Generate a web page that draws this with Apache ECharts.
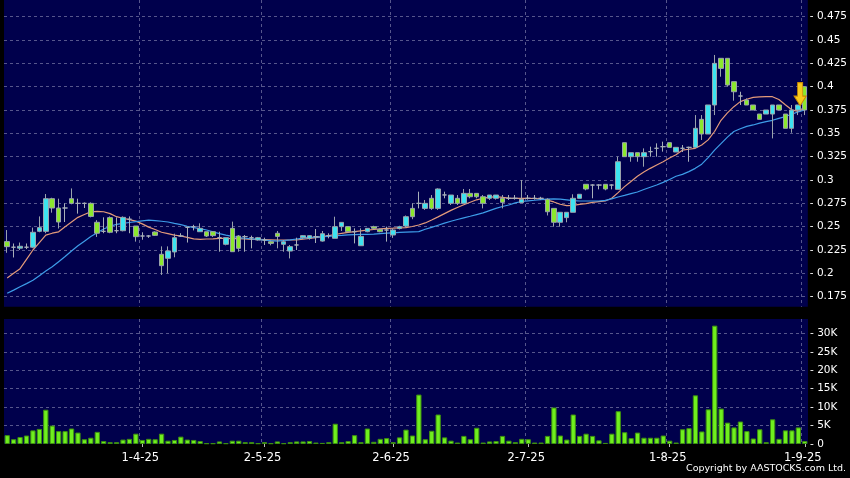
<!DOCTYPE html>
<html><head><meta charset="utf-8">
<script src="https://cdn.jsdelivr.net/npm/echarts@6/dist/echarts.min.js"></script>
<style>html,body{margin:0;padding:0;background:#000;}#c{width:850px;height:478px;}</style>
</head><body><div id="c"></div>
<script>
// Trading days (D-M-YY)
const categories = [
'3-3-25','4-3-25','5-3-25','6-3-25','7-3-25','10-3-25','11-3-25','12-3-25','13-3-25','14-3-25',
'17-3-25','18-3-25','19-3-25','20-3-25','21-3-25','24-3-25','25-3-25','26-3-25','27-3-25','28-3-25','31-3-25',
'1-4-25','2-4-25','3-4-25','7-4-25','8-4-25','9-4-25','10-4-25','11-4-25','14-4-25','15-4-25',
'16-4-25','17-4-25','22-4-25','23-4-25','24-4-25','25-4-25','28-4-25','29-4-25','30-4-25',
'2-5-25','6-5-25','7-5-25','8-5-25','9-5-25','12-5-25','13-5-25','14-5-25','15-5-25','16-5-25',
'19-5-25','20-5-25','21-5-25','22-5-25','23-5-25','26-5-25','27-5-25','28-5-25','29-5-25','30-5-25',
'2-6-25','3-6-25','4-6-25','5-6-25','6-6-25','9-6-25','10-6-25','11-6-25','12-6-25','13-6-25',
'16-6-25','17-6-25','18-6-25','19-6-25','20-6-25','23-6-25','24-6-25','25-6-25','26-6-25','27-6-25','30-6-25',
'2-7-25','3-7-25','4-7-25','7-7-25','8-7-25','9-7-25','10-7-25','11-7-25','14-7-25','15-7-25',
'16-7-25','17-7-25','18-7-25','21-7-25','22-7-25','23-7-25','24-7-25','25-7-25','28-7-25','29-7-25','30-7-25','31-7-25',
'1-8-25','4-8-25','5-8-25','6-8-25','7-8-25','8-8-25','11-8-25','12-8-25','13-8-25','14-8-25',
'15-8-25','18-8-25','19-8-25','20-8-25','21-8-25','22-8-25','25-8-25','26-8-25','27-8-25','28-8-25','29-8-25',
'1-9-25'];
const dateLabels = ['1-4-25','2-5-25','2-6-25','2-7-25','1-8-25','1-9-25'];

const opens = [
.234,.228,.227,.228,.228,.245,.245,.280,.270,.270,
.280,.275,.275,.275,.2547,.245,.2597,.2457,.2457,.258,
.2507,.240,.240,.2443,.2204,.2161,.2229,.240,.2493,.250,
.2446,.2446,.2446,.2382,.2311,.2482,.240,.2393,.2382,.2357,
.2357,.2339,.2429,.2311,.2239,.2304,.2382,.2375,.2393,.2346,
.2404,.2375,.250,.250,.2446,.2296,.2446,.250,.2471,.2464,
.2411,.248,.2507,.2696,.275,.2696,.2804,.2696,.284,.275,
.2804,.275,.2857,.2857,.2821,.2804,.2804,.2804,.2804,.2804,
.2757,.2804,.2804,.2804,.2793,.2696,.2547,.2597,.2654,.2804,
.2954,.2946,.2946,.2954,.2946,.290,.340,.325,.3293,.325,
.3304,.334,.3357,.340,.330,.334,.335,.335,.365,.3493,
.3804,.4304,.4304,.4054,.390,.3857,.3804,.3707,.3707,.3707,
.3804,.3707,.3554,.375,.400];
const closes = [
.2286,.228,.229,.228,.244,.249,.280,.270,.255,.270,
.275,.275,.275,.261,.243,.245,.244,.2457,.260,.258,
.2393,.240,.240,.2407,.2082,.224,.2382,.240,.2493,.250,
.2482,.240,.2404,.2382,.2382,.2232,.2268,.2393,.2382,.2382,
.2357,.2321,.2396,.2339,.2286,.2304,.2404,.2404,.2393,.2425,
.2404,.250,.2546,.2446,.2446,.2396,.2482,.2482,.2446,.2464,
.2464,.250,.2607,.2607,.275,.275,.2696,.2904,.284,.2839,
.275,.2857,.2821,.2821,.275,.2839,.2839,.2761,.2804,.2804,
.2793,.2804,.2804,.2804,.266,.2547,.2654,.2654,.2804,.2847,
.2904,.2946,.2946,.2904,.2946,.3196,.325,.3293,.325,.3293,
.3304,.334,.3357,.335,.335,.334,.335,.3554,.3493,.3804,
.425,.4196,.4018,.3946,.390,.3804,.375,.365,.375,.3804,
.375,.3554,.375,.3804,.375];
const lows = [
.222,.217,.225,.226,.227,.244,.243,.265,.248,.255,
.274,.264,.270,.260,.239,.243,.243,.243,.245,.243,
.234,.236,.238,.240,.1983,.200,.2172,.239,.233,.246,
.2446,.239,.239,.2232,.230,.2232,.2232,.2232,.2268,.235,
.2304,.230,.2268,.2232,.216,.225,.237,.236,.2325,.234,
.2375,.2375,.2454,.2446,.2321,.2296,.244,.247,.244,.234,
.238,.247,.249,.258,.2696,.268,.268,.268,.2804,.2732,
.2732,.275,.2804,.2804,.2696,.2786,.279,.2696,.2786,.279,
.2757,.279,.279,.279,.262,.250,.250,.2547,.2654,.2804,
.289,.2804,.290,.289,.290,.290,.325,.3196,.3196,.3143,
.325,.325,.3304,.335,.330,.330,.3196,.335,.3429,.3493,
.3696,.4107,.400,.385,.3804,.3804,.375,.365,.3707,.3446,
.375,.3554,.3507,.3696,.3696];
const highs = [
.2464,.232,.233,.232,.249,.261,.285,.281,.280,.275,
.291,.280,.276,.276,.257,.260,.261,.260,.261,.261,
.2507,.244,.241,.245,.2289,.2289,.2425,.243,.250,.252,
.2536,.2446,.245,.2446,.2382,.2554,.241,.241,.2404,.239,
.2382,.235,.2454,.2357,.2304,.2382,.241,.241,.2475,.2454,
.2429,.2607,.2546,.250,.2482,.2482,.2482,.251,.248,.250,
.2482,.251,.262,.275,.2875,.2786,.2839,.2911,.2875,.2839,
.2839,.2904,.2904,.2857,.2839,.2839,.2839,.2839,.2839,.2839,
.300,.2839,.2839,.282,.2804,.2696,.2654,.2654,.2847,.2847,
.2954,.2954,.2954,.2954,.2954,.325,.340,.3293,.3293,.3339,
.3357,.3393,.3411,.340,.335,.3375,.3357,.3696,.3696,.3804,
.434,.4304,.4304,.4054,.3946,.3875,.3804,.3707,.375,.3804,
.3804,.3707,.3804,.3804,.400];
const volumes = [
2400,1300,1900,2300,3700,4100,9300,5000,3500,3500,
4200,3100,1300,1700,3300,800,500,500,1200,1400,
2800,1100,1400,1300,2800,900,1100,2000,1200,1100,
800,200,200,700,200,900,900,500,500,200,
500,200,700,200,500,700,700,800,400,300,
500,5500,500,800,2400,500,4200,600,1400,1600,
500,1800,3900,2300,13400,1300,3600,8000,1800,900,
400,2200,1300,4400,400,700,800,2200,900,500,
1400,1300,400,400,2200,9900,2300,1200,8000,2200,
2800,2200,1000,300,2800,8900,3200,1600,3100,1700,
1700,1700,2300,900,400,4000,4300,13200,3400,9400,
32100,9600,5800,4500,6100,3500,1500,4000,500,6700,
1400,3700,3700,4500,800];
// moving-average lines
const maShort = [
.195,.200,.205,.215,.225,.233,.241,.243,.2445,.250,
.255,.260,.263,.266,.2665,.266,.264,.2607,.259,.2575,
.256,.253,.2495,.247,.244,.2425,.241,.240,.2385,.237,
.2365,.2368,.237,.2374,.2375,.2373,.2371,.2368,.2365,.2363,
.2361,.2359,.2357,.2357,.2357,.2357,.2365,.2374,.2382,.2393,
.2404,.2416,.2428,.2439,.2447,.2455,.2463,.247,.2476,.2482,
.2484,.2487,.249,.2502,.2518,.254,.2572,.2605,.264,.2675,
.2705,.2735,.2762,.2788,.2805,.2815,.2821,.2815,.2806,.2804,
.2804,.2804,.2802,.2798,.2785,.2765,.274,.2725,.2728,.2738,
.2748,.276,.2768,.2775,.2805,.2865,.2929,.2985,.304,.3085,
.3125,.316,.3195,.3235,.327,.332,.333,.334,.3375,.343,
.352,.364,.372,.3786,.384,.3865,.3886,.389,.3893,.3893,
.3862,.3806,.3752,.3735,.3765];
const maLong = [
.1786,.182,.1857,.189,.1925,.1975,.2025,.207,.2125,.218,
.224,.2295,.2345,.2395,.2435,.2475,.2505,.2525,.2535,.2545,
.2555,.2563,.257,.2565,.2558,.255,.2535,.2522,.2505,.249,
.248,.2464,.2445,.2425,.241,.2396,.2382,.2376,.237,.2363,
.2356,.235,.2346,.2352,.2358,.2368,.2378,.2385,.2389,.2393,
.2397,.2403,.2407,.2412,.2415,.2417,.2418,.242,.2425,.243,
.2434,.2438,.2441,.2444,.2447,.2472,.2492,.2515,.2538,.2558,
.2577,.2595,.2612,.263,.2648,.2672,.2696,.2716,.2732,.2755,
.277,.2777,.2783,.279,.2796,.2797,.2796,.2788,.278,.2775,
.2775,.2775,.2775,.2782,.2798,.2818,.2835,.2855,.2872,.2898,
.2922,.2946,.2975,.3005,.304,.306,.309,.3125,.317,.324,
.332,.339,.346,.352,.355,.3575,.359,.361,.3625,.364,
.366,.368,.3705,.373,.375];
const signalDate = '29-8-25';
const signalPrice = 0.392;

const NAVY = '#00004C';
const GRID_LINE = {type:[3,3], color:'#56568C', width:1};
const FONT = 'DejaVu Sans';
const showDate = (i, v) => dateLabels.indexOf(v !== undefined ? v : categories[i]) >= 0;

const chart = echarts.init(document.getElementById('c'), null, {renderer:'canvas'});
chart.setOption({
  backgroundColor: '#000',
  animation: false,
  grid: [
    {left:4, right:42, top:0, height:320, show:true, backgroundColor:NAVY, borderWidth:0},
    {left:4, right:42, top:319, height:125, show:true, backgroundColor:NAVY, borderWidth:0}
  ],
  xAxis: [
    {type:'category', gridIndex:0, data:categories, boundaryGap:true,
     axisLine:{show:false}, axisTick:{show:false}, axisLabel:{show:false},
     splitLine:{show:true, interval:showDate, showMaxLine:false, lineStyle:GRID_LINE}},
    {type:'category', gridIndex:1, data:categories, boundaryGap:true,
     axisLine:{show:false},
     axisTick:{show:true, interval:showDate, alignWithLabel:true, length:3, lineStyle:{color:'#bbbbbb'}},
     axisLabel:{show:true, interval:showDate, color:'#ffffff', fontFamily:FONT, fontSize:11.5, margin:8, padding:[0,4,0,0]},
     splitLine:{show:true, interval:showDate, showMaxLine:false, lineStyle:GRID_LINE}}
  ],
  yAxis: [
    {type:'value', gridIndex:0, position:'right', min:0.15, max:0.4929, interval:0.025,
     axisLine:{show:false}, axisTick:{show:false},
     axisLabel:{color:'#ffffff', fontFamily:FONT, fontSize:10.5, margin:2, showMinLabel:false, showMaxLabel:false,
       formatter: v => '- ' + parseFloat(v.toFixed(3))},
     splitLine:{show:true, showMinLine:false, showMaxLine:false, lineStyle:GRID_LINE}},
    {type:'value', gridIndex:1, position:'right', min:0, max:33900, interval:5000,
     axisLine:{show:false}, axisTick:{show:false},
     axisLabel:{color:'#ffffff', fontFamily:FONT, fontSize:10.5, margin:2, showMaxLabel:false,
       formatter: v => '- ' + (v === 0 ? '0' : (v/1000) + 'K')},
     splitLine:{show:true, showMinLine:false, showMaxLine:false, lineStyle:GRID_LINE}}
  ],
  series: [
    {type:'line', xAxisIndex:0, yAxisIndex:0, data:maShort, showSymbol:false, z:2,
     lineStyle:{color:'#E39A7A', width:1.2}},
    {type:'line', xAxisIndex:0, yAxisIndex:0, data:maLong, showSymbol:false, z:2,
     lineStyle:{color:'#3D9CE8', width:1.2}},
    {type:'candlestick', xAxisIndex:0, yAxisIndex:0, z:3, barWidth:5,
     data: categories.map((_, i) => [opens[i], closes[i], lows[i], highs[i]]),
     itemStyle:{color:'#3DE3F0', color0:'#8BE82D', borderColor:'#9AA3AC', borderColor0:'#9AA3AC', borderColorDoji:'#A8B0B8', borderWidth:1},
     markPoint:{silent:true, symbol:'path://M4,0 L10,0 L10,14 L14,14 L7,24 L0,14 L4,14 Z', symbolSize:[12,23], symbolOffset:[2,0],
       label:{show:false}, itemStyle:{color:'#F8C81C', borderColor:'#C98A00', borderWidth:1},
       data:[{coord:[signalDate, signalPrice]}]}},
    {type:'bar', xAxisIndex:1, yAxisIndex:1, data:volumes, barWidth:'82%',
     itemStyle:{color:'#6FEF1E', borderColor:'#3E8F10', borderWidth:1}}
  ],
  graphic: [
    {type:'rect', shape:{x:0, y:306.7, width:850, height:12.2}, style:{fill:'#000'}, z:10, silent:true},
    {type:'text', right:4, top:464, z:10, silent:true,
     style:{text:'Copyright by AASTOCKS.com Ltd.', fill:'#ffffff', font:'9.5px "DejaVu Sans"'}}
  ]
});
</script>
</body></html>
